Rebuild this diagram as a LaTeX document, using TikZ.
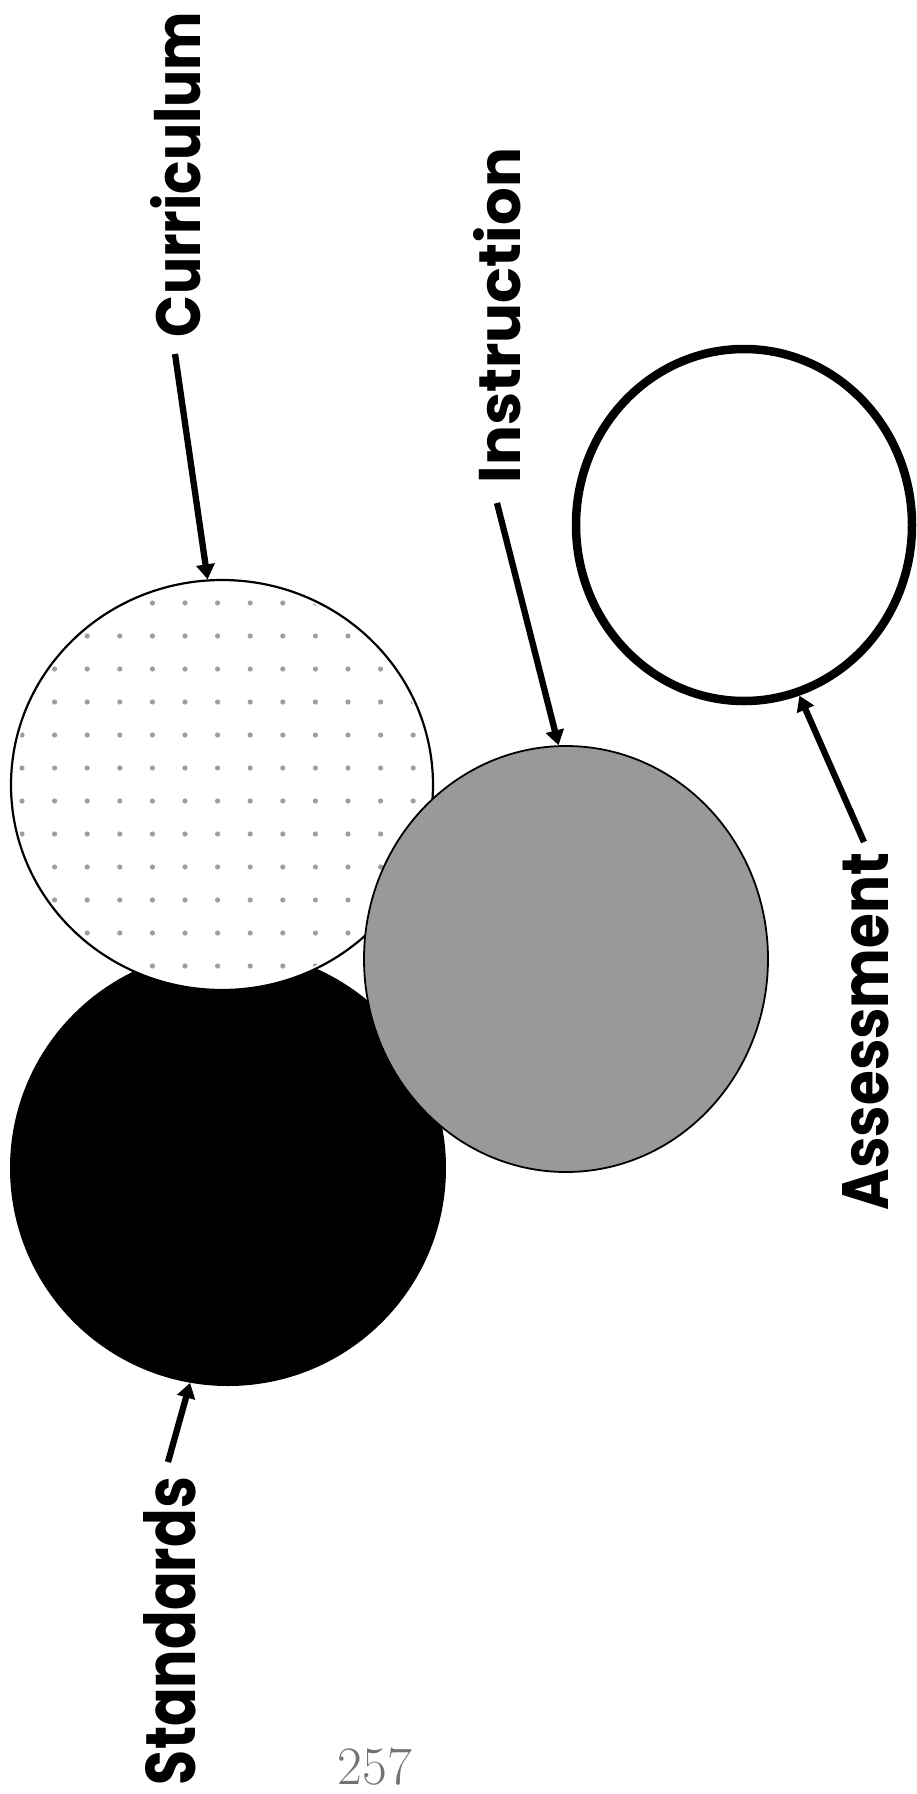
\documentclass[tikz,border=0pt]{standalone}
\usepackage{fontspec}
\usepackage{graphicx}
\usetikzlibrary{arrows.meta,shapes.geometric}
\newfontfamily\lblfont{Poppins}
\tikzset{
  disc/.style={ellipse, inner sep=0pt},
  arr/.style={line width=6.3pt, -{Triangle[length=15pt,width=18pt]}},
  lbl/.style={rotate=90, anchor=base west, inner sep=0pt, outer sep=0pt},
  speck/.style={fill=black!38, draw=none},
}
\newcommand{\lbltext}[3]{\resizebox{#1pt}{#2pt}{\lblfont\bfseries #3}}
\begin{document}
\begin{tikzpicture}[x=1pt,y=-1pt]
\useasboundingbox (0,0) rectangle (917,1794);
% Standards (black)
\node[disc, fill=black, minimum width=436pt, minimum height=436pt] (std) at (228,1168) {};
% Curriculum (dotted)
\node[disc, draw=black, line width=2.2pt, fill=white, minimum width=422pt, minimum height=410pt] (cur) at (222,785) {};
\begin{scope}
  \clip (222,785) ellipse [x radius=208, y radius=202];
  \foreach \i in {0,...,13} {
    \foreach \j in {0,...,13} {
      \fill[speck] ({22+32.6*\i},{570+33*\j}) circle (2.6pt);
    }
  }
\end{scope}
% Instruction (gray)
\node[disc, draw=black, line width=1.8pt, fill=black!40, minimum width=404pt, minimum height=426pt] (ins) at (566,959) {};
% Assessment (outline)
\node[disc, draw=black, line width=8.5pt, fill=white, minimum width=336pt, minimum height=352pt] (ass) at (744,525) {};
% labels
\node[lbl] (tcur) at (200,337) {\lbltext{325}{50}{Curriculum}};
\node[lbl] (tins) at (520,483) {\lbltext{335}{47}{Instruction}};
\node[lbl] (tass) at (888,1210) {\lbltext{357}{46}{Assessment}};
\node[lbl] (tstd) at (195,1785) {\lbltext{308}{52}{Standards}};
% arrow tails
\coordinate (acur) at (175,354);
\coordinate (ains) at (497,503);
\coordinate (aass) at (864,842);
\coordinate (astd) at (168,1462);
\draw[arr] (acur) -- (cur.94);
\draw[arr] (ains) -- (ins.92);
\draw[arr] (aass) -- (ass.-72);
\draw[arr] (astd) -- (std.-100);
% page number
\node[text=black!55, inner sep=0pt, anchor=base] (pg) at (375,1784) {\fontsize{54}{54}\selectfont 257};
\end{tikzpicture}
\end{document}
